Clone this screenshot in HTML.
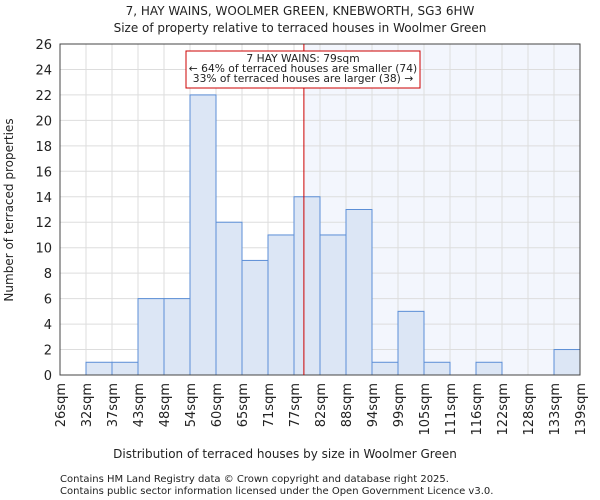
<!DOCTYPE html>
<html><head><meta charset="utf-8"><style>body{margin:0;background:#fff}svg{display:block}text{font-family:"DejaVu Sans","Liberation Sans",sans-serif;fill:#222}</style></head>
<body>
<svg id="c" width="600" height="500">
<text x="300" y="15" font-size="12" text-anchor="middle">7, HAY WAINS, WOOLMER GREEN, KNEBWORTH, SG3 6HW</text>
<text x="300" y="32" font-size="12" text-anchor="middle">Size of property relative to terraced houses in Woolmer Green</text>
<text x="285" y="458" font-size="12" text-anchor="middle">Distribution of terraced houses by size in Woolmer Green</text>
<text transform="translate(13,210) rotate(-90)" font-size="12" text-anchor="middle">Number of terraced properties</text>
<text x="60" y="482" font-size="10">Contains HM Land Registry data © Crown copyright and database right 2025.</text>
<text x="60" y="494" font-size="10">Contains public sector information licensed under the Open Government Licence v3.0.</text>
</svg>
<script>
const labels=["26sqm","32sqm","37sqm","43sqm","48sqm","54sqm","60sqm","65sqm","71sqm","77sqm","82sqm","88sqm","94sqm","99sqm","105sqm","111sqm","116sqm","122sqm","128sqm","133sqm","139sqm"];
const counts=[0,1,1,6,6,22,12,9,11,14,11,13,1,5,1,0,1,0,0,2];
const yTicks=[0,2,4,6,8,10,12,14,16,18,20,22,24,26];
const subjectSize=79;
const minSize=26, maxSize=139;
const ns="http://www.w3.org/2000/svg",svg=document.getElementById('c');
const L=60,R=580,T=44,B=375,yMax=26;
const bw=(R-L)/counts.length;
const xb=i=>L+i*bw, y=v=>B-(v/yMax)*(B-T), xs=s=>L+(s-minSize)/(maxSize-minSize)*(R-L);
function mk(t,a){const e=document.createElementNS(ns,t);for(const k in a)e.setAttribute(k,a[k]);svg.appendChild(e);return e;}
let e=mk('rect',{x:xs(subjectSize),y:T,width:R-xs(subjectSize),height:B-T,fill:'#f3f6fd'});


for(let i=0;i<=counts.length;i++){e=mk('line',{x1:xb(i),x2:xb(i),y1:T,y2:B,stroke:'#ddd','stroke-width':1});

}
yTicks.forEach(v=>{e=mk('line',{x1:L,x2:R,y1:y(v),y2:y(v),stroke:'#ddd'});


e=mk('text',{x:L-8,y:y(v)+5,'font-size':13,'text-anchor':'end'});e.textContent=v;

});
counts.forEach((c,i)=>{if(!c)return;e=mk('rect',{x:xb(i),y:y(c),width:bw,height:B-y(c),fill:'#dce6f5',stroke:'#5b8ed6','stroke-width':1});

});
labels.forEach((l,i)=>{e=mk('text',{transform:`translate(${xb(i)+5},383) rotate(-90)`,'font-size':13,'text-anchor':'end'});e.textContent=l;

});
e=mk('rect',{x:L,y:T,width:R-L,height:B-T,fill:'none',stroke:'#444'});


e=mk('line',{x1:xs(subjectSize),x2:xs(subjectSize),y1:T,y2:B,stroke:'#cc0000','stroke-width':1});


e=mk('rect',{x:186,y:51,width:234,height:37,fill:'#fff',stroke:'#cc0000'});


["7 HAY WAINS: 79sqm","← 64% of terraced houses are smaller (74)","33% of terraced houses are larger (38) →"].forEach((t,i)=>{e=mk('text',{x:303,y:62+i*10,'font-size':10.7,'text-anchor':'middle'});e.textContent=t;

});
</script>
</body></html>
